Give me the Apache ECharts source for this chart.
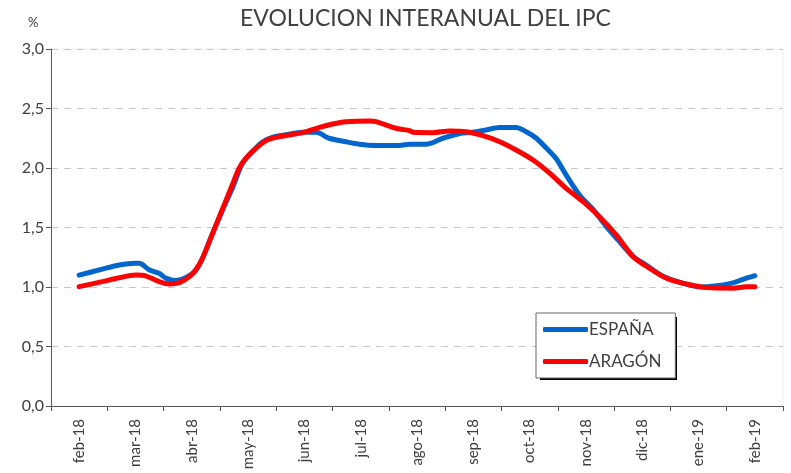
<!DOCTYPE html>
<html><head><meta charset="utf-8">
<script src="https://cdn.jsdelivr.net/npm/echarts@6/dist/echarts.min.js"></script>
<style>html,body{margin:0;padding:0;background:#fff}#c{width:791px;height:473px}</style>
</head><body><div id="c"></div>
<script>
const months = ['feb-18','mar-18','abr-18','may-18','jun-18','jul-18','ago-18','sep-18','oct-18','nov-18','dic-18','ene-19','feb-19'];
const yTicks = [0, 0.5, 1, 1.5, 2, 2.5, 3];
// x = position in months from feb-18 (0) to feb-19 (12)
const espanaX = [0,0.41,0.71,1.0,1.07,1.24,1.42,1.54,1.72,1.90,2.07,2.19,2.37,2.55,2.73,2.90,3.08,3.26,3.44,3.67,3.97,4.21,4.44,4.74,4.98,5.27,5.69,5.87,6.16,6.46,6.76,6.99,7.23,7.47,7.76,7.94,8.12,8.30,8.47,8.65,8.89,9.13,9.36,9.6,9.84,10.07,10.37,10.73,11.02,11.32,11.61,11.79,12.0];
const espanaY = [1.10,1.15,1.185,1.20,1.20,1.145,1.115,1.075,1.055,1.08,1.14,1.24,1.45,1.65,1.84,2.04,2.14,2.22,2.26,2.28,2.30,2.30,2.25,2.22,2.20,2.19,2.19,2.20,2.20,2.25,2.29,2.30,2.32,2.34,2.34,2.305,2.25,2.165,2.08,1.94,1.77,1.65,1.51,1.38,1.255,1.185,1.09,1.03,1.00,1.01,1.035,1.065,1.095];
const aragonX = [0,0.41,0.71,1.01,1.19,1.42,1.60,1.78,1.96,2.07,2.19,2.37,2.55,2.73,2.84,2.96,3.14,3.32,3.50,3.73,3.97,4.27,4.50,4.74,5.16,5.27,5.57,5.69,5.87,5.93,6.28,6.58,6.87,7.17,7.47,7.76,8.06,8.36,8.65,8.95,9.24,9.54,9.84,10.13,10.43,10.73,11.14,11.61,11.85,12.0];
const aragonY = [1.003,1.045,1.078,1.10,1.092,1.045,1.025,1.036,1.087,1.143,1.241,1.451,1.661,1.871,1.997,2.081,2.165,2.23,2.258,2.277,2.297,2.342,2.37,2.389,2.395,2.39,2.342,2.328,2.314,2.30,2.297,2.311,2.305,2.272,2.221,2.151,2.067,1.955,1.829,1.717,1.591,1.437,1.255,1.157,1.073,1.031,0.995,0.99,1.003,1.003];

const pair = (xs, ys) => xs.map((x, i) => [x, ys[i]]);
const chart = echarts.init(document.getElementById('c'));
const txt = '#404040';
chart.setOption({
  animation: false,
  title: [
    {text: 'EVOLUCION INTERANUAL DEL IPC', left: 240, top: 7, textStyle: {fontFamily: 'Lato', fontSize: 23, fontWeight: 'normal', color: txt}, padding: 0, itemGap: 0},
    {text: '%', left: 28, top: 16, textStyle: {fontFamily: 'Lato', fontSize: 13, fontWeight: 'normal', color: txt}, padding: 0}
  ],
  graphic: [
    {type: 'rect', left: 540, top: 317, shape: {width: 137, height: 63}, style: {fill: '#000'}, z: 3, silent: true}
  ],
  grid: {left: 51, right: 8, top: 49, bottom: 67, show: true, borderColor: '#eeeeee', borderWidth: 1},
  legend: {
    orient: 'vertical', left: 536, top: 313, z: 10,
    data: ['ESPAÑA', 'ARAGÓN'],
    icon: 'roundRect', itemWidth: 45, itemHeight: 5, itemGap: 15,
    padding: [8, 14, 8, 7],
    backgroundColor: '#fff', borderColor: '#666', borderWidth: 1,
    textStyle: {fontFamily: 'Lato', fontSize: 17, color: txt, padding: [0, 0, 0, -4]}
  },
  xAxis: [
    {type: 'category', data: months, boundaryGap: true,
     axisLine: {lineStyle: {color: '#595959', width: 1}},
     axisTick: {show: true, length: 5, lineStyle: {color: '#595959'}},
     axisLabel: {rotate: 90, margin: 13, fontFamily: 'Lato', fontSize: 15, color: txt},
     splitLine: {show: false}},
    {type: 'value', min: -0.5, max: 12.5, show: false, splitLine: {show: false}}
  ],
  yAxis: {
    type: 'value', min: yTicks[0], max: yTicks[yTicks.length - 1], interval: 0.5,
    axisLine: {show: true, onZero: false, lineStyle: {color: '#595959', width: 1}},
    axisTick: {show: true, length: 5, lineStyle: {color: '#595959'}},
    axisLabel: {fontFamily: 'Lato', fontSize: 16, color: txt, margin: 7,
      formatter: v => v.toFixed(1).replace('.', ',')},
    splitLine: {show: true, lineStyle: {color: '#c8c8c8', type: [7, 6], width: 1}}
  },
  series: [
    {name: 'ESPAÑA', type: 'line', xAxisIndex: 1, data: pair(espanaX, espanaY), showSymbol: false, symbol: 'none', smooth: 0.3,
     lineStyle: {color: '#0066CC', width: 5, cap: 'round'}, itemStyle: {color: '#0066CC'}},
    {name: 'ARAGÓN', type: 'line', xAxisIndex: 1, data: pair(aragonX, aragonY), showSymbol: false, symbol: 'none', smooth: 0.3,
     lineStyle: {color: '#FF0000', width: 5, cap: 'round'}, itemStyle: {color: '#FF0000'}}
  ]
});
</script></body></html>
